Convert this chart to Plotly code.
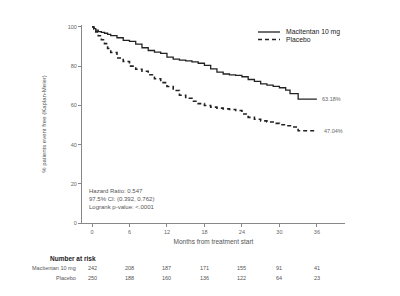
import plotly.graph_objects as go

# Kaplan-Meier estimates (months, % event free)
mac_months = [0, 0.3, 0.6, 1, 1.5, 2, 2.5, 3, 4, 5, 6, 7, 8, 9, 10, 11, 12, 13, 14, 15, 16, 17,
              18, 19, 20, 21, 22, 23, 24, 25, 26, 27, 28, 29, 30, 31, 31.7, 33, 36]
mac_values = [100, 99.2, 98.4, 97.6, 97.2, 96.8, 96.2, 95.6, 94.5, 93.2, 92.6, 91.2, 89.4, 88.0,
              87.2, 86.5, 84.6, 83.6, 83.1, 82.7, 82.2, 81.5, 80.4, 78.6, 77.0, 76.0, 75.6, 75.3,
              74.6, 73.2, 72.2, 71.0, 70.3, 69.7, 69.0, 67.8, 66.0, 63.18, 63.18]

pla_months = [0, 0.3, 0.6, 1, 1.5, 2, 2.5, 3, 4, 5, 6, 7, 8, 9, 10, 11, 12, 13, 14, 15, 16, 17,
              18, 19, 20, 21, 22, 23, 24, 25, 26, 27, 28, 29, 30, 31, 32, 33, 35.8]
pla_values = [100, 99, 97.5, 95.5, 93.5, 91.5, 89, 87, 84.2, 82.4, 80, 78.4, 77.4, 75.6, 73.6,
              71.6, 69.6, 67.6, 65.2, 63.6, 62.1, 60.9, 59.9, 59.1, 58.6, 58.2, 57.9, 57.4, 55.6,
              53.9, 52.9, 52.1, 51.5, 50.8, 50.1, 49.6, 49.0, 47.04, 47.04]

x_ticks = [0, 6, 12, 18, 24, 30, 36]
y_ticks = [0, 20, 40, 60, 80, 100]
risk_mac = [242, 208, 187, 171, 155, 91, 41]
risk_pla = [250, 188, 160, 136, 122, 64, 23]
series_names = ["Macitentan 10 mg", "Placebo"]
final_labels = ["63.18%", "47.04%"]
stats_text = ["Hazard Ratio: 0.547", "97.5% CI: (0.392, 0.762)", "Logrank p-value: <.0001"]

FONT = "Liberation Sans, Arial, sans-serif"
GREY = "#666666"
LINE_STYLES = [dict(color="#222222", width=1.3, dash="solid"),
               dict(color="#222222", width=1.6, dash="4px,3px")]

# pixel helpers for the plot box (l=82, r=345, top=25, bottom=223)
PL, PR, PT, PB = 82.0, 345.0, 25.0, 223.0
def px_x(px):
    return (px - PL) / (PR - PL)
def px_y(py):
    return (PB - py) / (PB - PT)

fig = go.Figure()
fig.add_trace(go.Scatter(x=mac_months, y=mac_values, mode="lines", line_shape="hv",
                         name=series_names[0], line=LINE_STYLES[0]))
fig.add_trace(go.Scatter(x=pla_months, y=pla_values, mode="lines", line_shape="hv",
                         name=series_names[1], line=LINE_STYLES[1]))

# custom compact legend
for i, (name, style, py) in enumerate(zip(series_names, LINE_STYLES, [32, 39.5])):
    fig.add_shape(type="line", xref="paper", yref="paper", x0=px_x(258), x1=px_x(280),
                  y0=px_y(py), y1=px_y(py), line=dict(color=style["color"], width=style["width"],
                                                      dash=style["dash"]))
    fig.add_annotation(x=px_x(284), y=px_y(py), xref="paper", yref="paper", xanchor="left",
                       yanchor="middle", showarrow=False, text=name,
                       font=dict(size=6.8, color="#222222", family=FONT))

# end-of-curve labels
fig.add_annotation(x=mac_months[-1], y=mac_values[-1], text=final_labels[0], xref="x", yref="y",
                   xanchor="left", xshift=3, showarrow=False, font=dict(size=5.5, color=GREY, family=FONT))
fig.add_annotation(x=pla_months[-1], y=pla_values[-1], text=final_labels[1], xref="x", yref="y",
                   xanchor="left", xshift=6, showarrow=False, font=dict(size=5.5, color=GREY, family=FONT))

# stats box
fig.add_annotation(x=0.02, y=0.055, xref="paper", yref="paper", xanchor="left", yanchor="bottom",
                   align="left", showarrow=False, text="<br>".join(stats_text),
                   font=dict(size=6, color="#555555", family=FONT))

# number at risk table
fig.add_annotation(x=-1.6, y=px_y(264), xref="x", yref="paper", xanchor="right", showarrow=False,
                   xshift=16, text="<b>Number at risk</b>", font=dict(size=6.5, color="#222222", family=FONT))
for name, row, py in [(series_names[0], risk_mac, 273), (series_names[1], risk_pla, 283)]:
    fig.add_annotation(x=-1.6, y=px_y(py), xref="x", yref="paper", xanchor="right",
                       xshift=-4, showarrow=False, text=name, font=dict(size=5.5, color="#555555", family=FONT))
    for m, n in zip(x_ticks, row):
        fig.add_annotation(x=m, y=px_y(py), xref="x", yref="paper", xanchor="center",
                           showarrow=False, text=str(n), font=dict(size=5.5, color="#555555", family=FONT))

fig.update_layout(
    width=400, height=296,
    margin=dict(l=82, r=55, t=25, b=73),
    paper_bgcolor="white", plot_bgcolor="white",
    font=dict(family=FONT, color=GREY),
    showlegend=False,
    xaxis=dict(range=[-1.6, 40.5], tickvals=x_ticks, ticks="outside", ticklen=3, tickwidth=1,
               tickcolor="#888888", showline=True, linecolor="#888888", linewidth=1,
               showgrid=False, zeroline=False, tickfont=dict(size=5.5, color=GREY),
               title=dict(text="Months from treatment start", font=dict(size=6.5, color="#555555"),
                          standoff=5)),
    yaxis=dict(range=[0, 101], tickvals=y_ticks, ticks="outside", ticklen=3, tickwidth=1,
               tickcolor="#888888", showline=True, linecolor="#888888", linewidth=1,
               showgrid=False, zeroline=False, tickfont=dict(size=5.5, color=GREY),
               title=dict(text="% patients event free (Kaplan-Meier)", font=dict(size=6, color="#555555"),
                          standoff=20)),
)

fig.write_html("out.html")
